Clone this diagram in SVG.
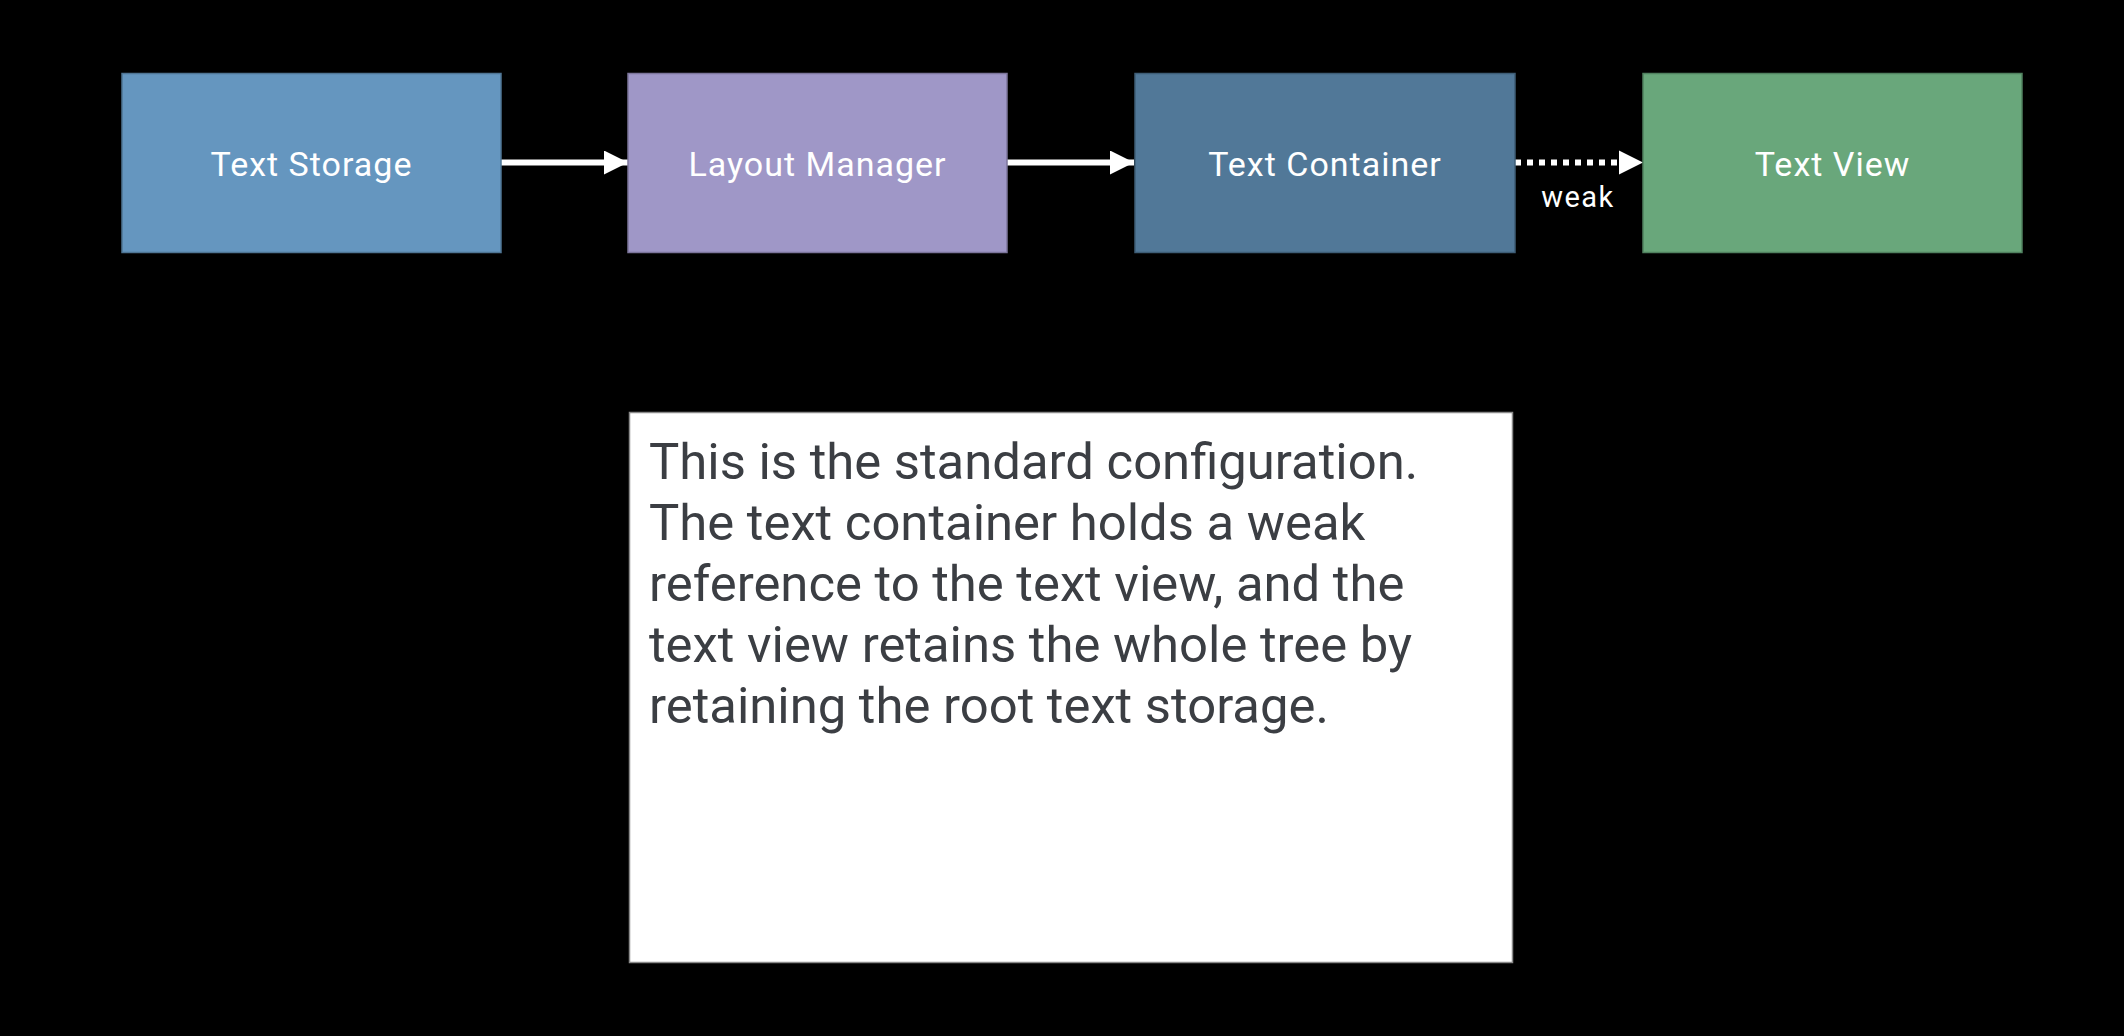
<svg xmlns="http://www.w3.org/2000/svg" width="2124" height="1036" viewBox="0 0 2124 1036">
<style>
.node rect{stroke-width:1.5}
.lbl{font-family:Roboto,"Liberation Sans",sans-serif;font-size:34px;letter-spacing:1px;fill:#ffffff;text-anchor:middle}
.edge{stroke:#ffffff;stroke-width:6;fill:none}
.note{font-family:Roboto,"Liberation Sans",sans-serif;font-size:50.8px;fill:#3b3e43}
</style>
<defs>
<marker id="ah" viewBox="0 0 24 24" refX="24" refY="12" markerWidth="24" markerHeight="24" markerUnits="userSpaceOnUse" orient="auto">
<path d="M0,0 L24,12 L0,24 Z" fill="#ffffff"/>
</marker>
</defs>
<rect x="0" y="0" width="2124" height="1036" fill="#000000"/>
<g id="connectors">
<line class="edge" x1="501" y1="162.5" x2="628" y2="162.5" marker-end="url(#ah)"/>
<line class="edge" x1="1007" y1="162.5" x2="1134" y2="162.5" marker-end="url(#ah)"/>
<line class="edge" x1="1515" y1="162.5" x2="1622" y2="162.5" stroke-dasharray="6 6"/>
<path d="M1619,150.5 L1643,162.5 L1619,174.5 Z" fill="#ffffff"/>
<text x="1578" y="207" font-family="Roboto,'Liberation Sans',sans-serif" font-size="29" letter-spacing="1.5" fill="#ffffff" text-anchor="middle">weak</text>
</g>
<g id="text-storage" class="node">
<rect x="122" y="73.5" width="379" height="179" fill="#6596bf" stroke="#4f7594"/>
<text class="lbl" x="311.5" y="176">Text Storage</text>
</g>
<g id="layout-manager" class="node">
<rect x="628" y="73.5" width="379" height="179" fill="#9f97c7" stroke="#7c759b"/>
<text class="lbl" x="817.5" y="176">Layout Manager</text>
</g>
<g id="text-container" class="node">
<rect x="1135" y="73.5" width="380" height="179" fill="#517898" stroke="#3e5d76"/>
<text class="lbl" x="1325" y="176">Text Container</text>
</g>
<g id="text-view" class="node">
<rect x="1643" y="73.5" width="379" height="179" fill="#69a77b" stroke="#50815f"/>
<text class="lbl" x="1832.5" y="176">Text View</text>
</g>
<g id="note">
<rect x="629.5" y="412.5" width="883" height="550" fill="#ffffff" stroke="#8a8a8a" stroke-width="1.5"/>
<text class="note">
<tspan x="649" y="479">This is the standard configuration.</tspan>
<tspan x="649" y="540">The text container holds a weak</tspan>
<tspan x="649" y="601">reference to the text view, and the</tspan>
<tspan x="649" y="662">text view retains the whole tree by</tspan>
<tspan x="649" y="723">retaining the root text storage.</tspan>
</text>
</g>
</svg>
